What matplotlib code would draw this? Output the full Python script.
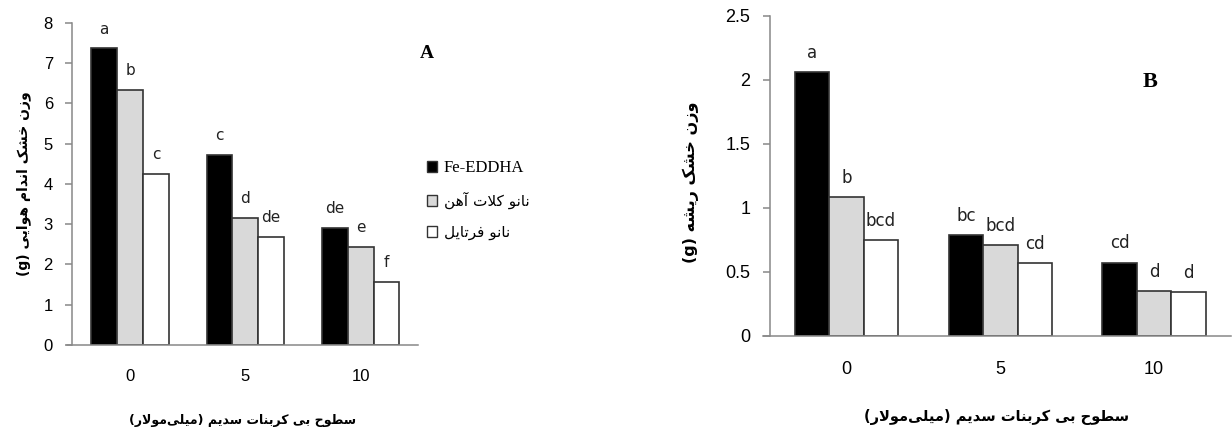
import numpy as np
import matplotlib
matplotlib.use("Agg")
import matplotlib.pyplot as plt
from matplotlib.patches import Patch

# data
levels = ["0", "5", "10"]
series = ["Fe-EDDHA", "نانو کلات آهن", "نانو فرتایل"]
shoot_fe = [7.36, 4.71, 2.90]
shoot_nano_chelate = [6.34, 3.15, 2.43]
shoot_nano_fertile = [4.25, 2.68, 1.56]
shoot_letters = [["a", "c", "de"], ["b", "d", "e"], ["c", "de", "f"]]
root_fe = [2.06, 0.787, 0.570]
root_nano_chelate = [1.081, 0.706, 0.347]
root_nano_fertile = [0.748, 0.566, 0.339]
root_letters = [["a", "bc", "cd"], ["b", "bcd", "d"], ["bcd", "cd", "d"]]

xlabel_txt = "سطوح بی کربنات سدیم (میلی\u200cمولار)"
ylabel_a = "وزن خشک اندام هوایی (g)"
ylabel_b = "وزن خشک ریشه (g)"

# matplotlib has no arabic shaping, so pick presentation forms by hand
FORMS = {
    'ا': (0xFE8D, 0xFE8E), 'آ': (0xFE81, 0xFE82), 'د': (0xFEA9, 0xFEAA),
    'ر': (0xFEAD, 0xFEAE), 'ز': (0xFEAF, 0xFEB0), 'و': (0xFEED, 0xFEEE),
    'ب': (0xFE8F, 0xFE90, 0xFE91, 0xFE92), 'ت': (0xFE95, 0xFE96, 0xFE97, 0xFE98),
    'ح': (0xFEA1, 0xFEA2, 0xFEA3, 0xFEA4), 'خ': (0xFEA5, 0xFEA6, 0xFEA7, 0xFEA8),
    'س': (0xFEB1, 0xFEB2, 0xFEB3, 0xFEB4), 'ش': (0xFEB5, 0xFEB6, 0xFEB7, 0xFEB8),
    'ط': (0xFEC1, 0xFEC2, 0xFEC3, 0xFEC4), 'ف': (0xFED1, 0xFED2, 0xFED3, 0xFED4),
    'ل': (0xFEDD, 0xFEDE, 0xFEDF, 0xFEE0), 'م': (0xFEE1, 0xFEE2, 0xFEE3, 0xFEE4),
    'ن': (0xFEE5, 0xFEE6, 0xFEE7, 0xFEE8), 'ه': (0xFEE9, 0xFEEA, 0xFEEB, 0xFEEC),
    'ک': (0xFB8E, 0xFB8F, 0xFB90, 0xFB91), 'ی': (0xFBFC, 0xFBFD, 0xFBFE, 0xFBFF),
}
LAM_ALEF = {'ا': (0xFEFB, 0xFEFC), 'آ': (0xFEF5, 0xFEF6)}


def shape(text):
    out = []
    i = 0
    while i < len(text):
        c = text[i]
        prev = text[i - 1] if i > 0 else ''
        nxt = text[i + 1] if i + 1 < len(text) else ''
        link_prev = prev in FORMS and len(FORMS[prev]) == 4 and c in FORMS
        if c == 'ل' and nxt in LAM_ALEF:
            out.append(chr(LAM_ALEF[nxt][1 if link_prev else 0]))
            i += 2
            continue
        if c in FORMS:
            f = FORMS[c]
            link_next = len(f) == 4 and nxt in FORMS
            if link_next:
                out.append(chr(f[3] if link_prev else f[2]))
            else:
                out.append(chr(f[1] if link_prev else f[0]))
        elif c != '\u200c':
            out.append(c)
        i += 1
    return ''.join(reversed(out)).translate(str.maketrans('()', ')('))


fa_font = dict(family="DejaVu Sans", fontweight="bold")
spine_col = "#888888"
fills = ["black", "#d9d9d9", "white"]


def draw_panel(ax, values, letters, ymax, ystep, tick_fs, xpad, left_lim,
               ylab, xlab_fs, ylab_fs):
    x = np.arange(len(levels))
    width = 0.224
    for k, vals in enumerate(values):
        bars = ax.bar(x + (k - 1) * width, vals, width, color=fills[k],
                      edgecolor="#333333", linewidth=1.2, zorder=2)
        for rect, lab in zip(bars, letters[k]):
            ax.annotate(lab, (rect.get_x() + rect.get_width() / 2, rect.get_height()),
                        xytext=(0, 14), textcoords="offset points", ha="center",
                        va="center", fontsize=tick_fs - 1, family="DejaVu Sans",
                        color="#222222")
    ax.set_xlim(left_lim, 2.5)
    ax.set_ylim(0, ymax)
    ax.set_yticks(np.arange(0, ymax + 1e-9, ystep))
    ax.set_yticklabels([f"{v:g}" for v in np.arange(0, ymax + 1e-9, ystep)])
    ax.set_xticks(x)
    ax.set_xticklabels(levels)
    for s in ["top", "right"]:
        ax.spines[s].set_visible(False)
    ax.spines["left"].set_position(("data", -0.5))
    for s in ["left", "bottom"]:
        ax.spines[s].set_color(spine_col)
        ax.spines[s].set_linewidth(1.1)
    ax.tick_params(axis="y", length=5, color=spine_col, width=1.1, pad=9,
                   labelsize=tick_fs)
    ax.tick_params(axis="x", length=0, pad=xpad, labelsize=tick_fs)
    for t in ax.get_xticklabels() + ax.get_yticklabels():
        t.set_family("Liberation Sans")
    ax.set_xlabel(shape(xlabel_txt), fontsize=xlab_fs, labelpad=22, **fa_font)
    ax.set_ylabel(shape(ylab), fontsize=ylab_fs, **fa_font)


fig = plt.figure(figsize=(12.32, 4.3), dpi=100)
ax_a = fig.add_axes([0.0541, 0.1977, 0.2854, 0.7495])
ax_b = fig.add_axes([0.6191, 0.2193, 0.3801, 0.7442])

draw_panel(ax_a, [shoot_fe, shoot_nano_chelate, shoot_nano_fertile], shoot_letters,
           8, 1, 12, 17, -0.55, ylabel_a, 9, 10)
draw_panel(ax_b, [root_fe, root_nano_chelate, root_nano_fertile], root_letters,
           2.5, 0.5, 13, 18.5, -0.545, ylabel_b, 10.5, 11.5)
ax_a.yaxis.set_label_coords(-0.1015, 0.5)
ax_b.yaxis.set_label_coords(-0.136, 0.48)

fig.text(427 / 1232, 1 - 53 / 430, "A", fontsize=14, fontweight="bold",
         family="Liberation Serif", ha="center", va="center")
fig.text(1150 / 1232, 1 - 82 / 430, "B", fontsize=16, fontweight="bold",
         family="Liberation Serif", ha="center", va="center")

handles = [Patch(facecolor=c, edgecolor="#333333", linewidth=1.0) for c in fills]
leg = fig.legend(handles, [series[0]] + [shape(s) for s in series[1:]],
                 loc="upper left", bbox_to_anchor=(413 / 1232, 1 - 146 / 430),
                 frameon=False, fontsize=11, handlelength=0.7, handleheight=0.7,
                 handletextpad=0.4, labelspacing=1.05)
leg.get_texts()[0].set_family("Liberation Serif")
leg.get_texts()[0].set_fontsize(12)

fig.savefig("out.png", dpi=100)
